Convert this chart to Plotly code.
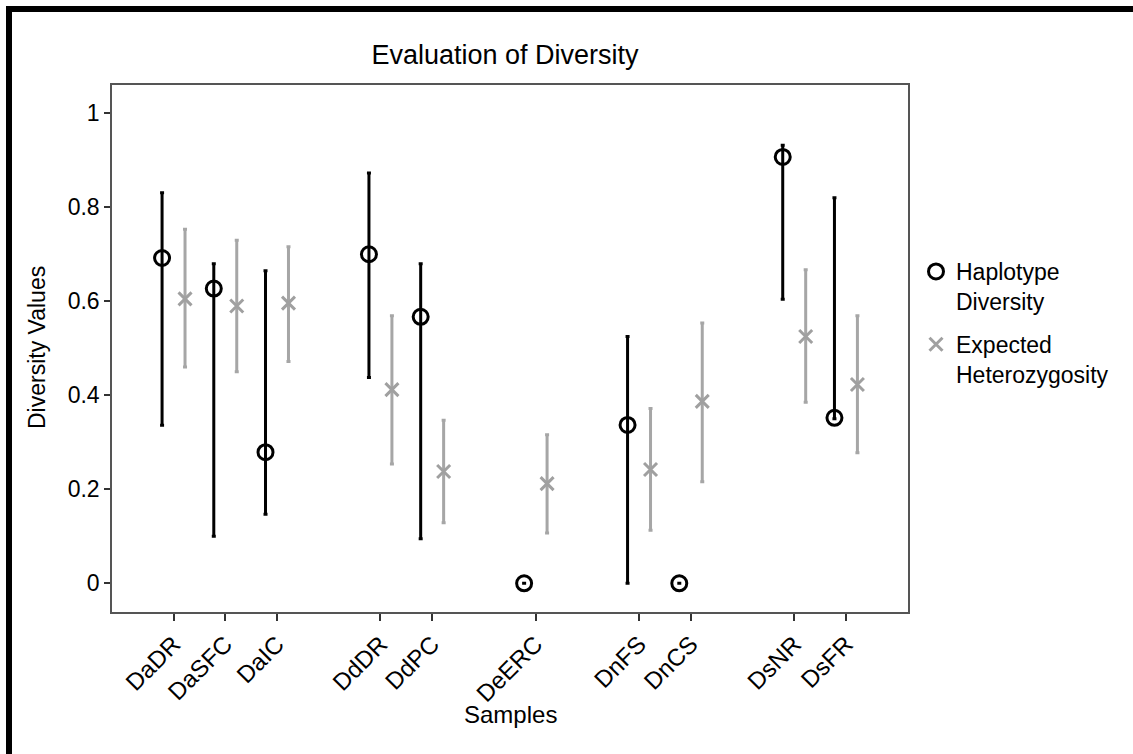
import plotly.graph_objects as go

# ---- data ----
samples = ["DaDR", "DaSFC", "DaIC", "DdDR", "DdPC", "DeERC", "DnFS", "DnCS", "DsNR", "DsFR"]
species = ["Da", "Da", "Da", "Dd", "Dd", "De", "Dn", "Dn", "Ds", "Ds"]

hap_div = [0.692, 0.627, 0.279, 0.700, 0.567, 0.0, 0.337, 0.0, 0.907, 0.352]
hap_low = [0.336, 0.100, 0.147, 0.438, 0.095, 0.0, 0.0, 0.0, 0.604, 0.350]
hap_high = [0.831, 0.680, 0.665, 0.873, 0.680, 0.0, 0.525, 0.0, 0.932, 0.820]

exp_het = [0.605, 0.590, 0.596, 0.412, 0.238, 0.212, 0.242, 0.387, 0.525, 0.423]
het_low = [0.460, 0.450, 0.472, 0.254, 0.129, 0.107, 0.113, 0.216, 0.385, 0.278]
het_high = [0.753, 0.730, 0.716, 0.569, 0.347, 0.316, 0.372, 0.554, 0.667, 0.569]

y_ticks = [0, 0.2, 0.4, 0.6, 0.8, 1]
y_tick_text = ["0", "0.2", "0.4", "0.6", "0.8", "1"]

# ---- category slots: an empty slot between species groups ----
pos = []
slot = 0
prev = None
for sp in species:
    if prev is not None and sp != prev:
        slot += 1
    pos.append(slot)
    slot += 1
    prev = sp

off = 0.222
x_hd = [p - off for p in pos]
x_he = [p + off for p in pos]

FONT = "Liberation Sans, Arial, sans-serif"

fig = go.Figure()
fig.add_trace(go.Scatter(
    x=x_hd, y=hap_div, mode="markers", name="Haplotype<br>Diversity", legendgroup="hd",
    marker=dict(symbol="circle-open", size=15, color="black", line=dict(width=3, color="black")),
    error_y=dict(type="data", symmetric=False,
                 array=[h - v for h, v in zip(hap_high, hap_div)],
                 arrayminus=[v - l for v, l in zip(hap_div, hap_low)],
                 color="black", thickness=3, width=2),
))
fig.add_trace(go.Scatter(
    x=x_he, y=exp_het, mode="markers", name="Expected<br>Heterozygosity", legendgroup="he",
    marker=dict(symbol="x-thin", size=13, color="#a0a0a0", line=dict(width=3, color="#a0a0a0")),
    error_y=dict(type="data", symmetric=False,
                 array=[h - v for h, v in zip(het_high, exp_het)],
                 arrayminus=[v - l for v, l in zip(exp_het, het_low)],
                 color="#a6a6a6", thickness=3, width=2),
))

L, R, T, B = 112, 225, 85, 142
W = 1133 - L - R
H = 754 - T - B

def px(x):
    return (x - L) / W

def py(y):
    return (754 - B - y) / H

fig.update_layout(
    width=1133, height=754,
    margin=dict(l=L, r=R, t=T, b=B),
    paper_bgcolor="white", plot_bgcolor="white",
    font=dict(family=FONT, size=23, color="black"),
    showlegend=True,
    legend=dict(x=px(916), y=py(250), xanchor="left", yanchor="top",
                font=dict(size=23), tracegroupgap=10, valign="top",
                bgcolor="rgba(0,0,0,0)"),
    title=dict(text="Evaluation of Diversity", x=505 / 1133, xanchor="center",
               y=1 - 55 / 754, yanchor="middle", font=dict(size=27)),
)
fig.update_xaxes(
    range=[-1.19, 14.2], tickmode="array", tickvals=pos, ticktext=samples,
    tickangle=-45, ticks="outside", ticklen=7, tickwidth=1.5, tickcolor="#333",
    showline=True, linecolor="#555", linewidth=1.5, mirror=True, automargin=False,
    showgrid=False, zeroline=False, tickfont=dict(size=24),
)
fig.update_yaxes(
    range=[-0.061, 1.06], tickmode="array", tickvals=y_ticks, ticktext=y_tick_text,
    ticks="outside", ticklen=6, tickwidth=1.5, tickcolor="#333",
    showline=True, linecolor="#555", linewidth=1.5, mirror=True, automargin=False,
    showgrid=False, zeroline=False, tickfont=dict(size=23),
)

fig.add_annotation(text="Diversity Values", xref="paper", yref="paper",
                   x=px(37), y=py(348), textangle=-90, showarrow=False,
                   font=dict(size=23), xanchor="center", yanchor="middle")
fig.add_annotation(text="Samples", xref="paper", yref="paper",
                   x=px(510), y=py(715), showarrow=False,
                   font=dict(size=24), xanchor="center", yanchor="middle")

# outer frame (top and left edges)
fig.add_shape(type="line", xref="paper", yref="paper",
              x0=px(6), x1=px(1140), y0=py(9), y1=py(9),
              line=dict(color="black", width=6))
fig.add_shape(type="line", xref="paper", yref="paper",
              x0=px(9), x1=px(9), y0=py(6), y1=py(760),
              line=dict(color="black", width=6))

fig.write_html("out.html", config={"displayModeBar": False},
               post_script="document.body.style.margin='0px';")
